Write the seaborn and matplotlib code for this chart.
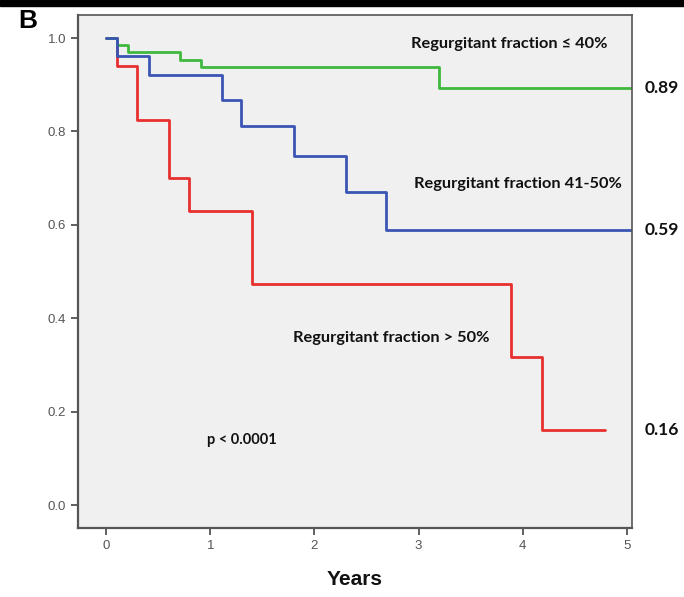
import matplotlib
matplotlib.use("Agg")
import matplotlib.pyplot as plt
import pandas as pd
import seaborn as sns

# Kaplan-Meier step curves
groups = ["Regurgitant fraction > 50%", "Regurgitant fraction \u2264 40%", "Regurgitant fraction 41-50%"]
red_t = [0, 0.10, 0.30, 0.60, 0.80, 1.40, 3.89, 4.19, 4.79]
red_s = [1.0, 0.941, 0.824, 0.700, 0.630, 0.473, 0.318, 0.160, 0.160]
green_t = [0, 0.10, 0.21, 0.71, 0.91, 3.20, 5.05]
green_s = [1.0, 0.986, 0.971, 0.954, 0.937, 0.893, 0.893]
blue_t = [0, 0.10, 0.41, 1.11, 1.30, 1.80, 2.30, 2.69, 5.05]
blue_s = [1.0, 0.962, 0.921, 0.867, 0.812, 0.747, 0.671, 0.589, 0.589]
end_labels = ["0.16", "0.89", "0.59"]
colors = ["#e8302e", "#3fb83f", "#3a55b4"]

frames = []
for g, t, s in zip(groups, [red_t, green_t, blue_t], [red_s, green_s, blue_s]):
    frames.append(pd.DataFrame({"Years": t, "Survival": s, "Group": g}))
df = pd.concat(frames, ignore_index=True)

sns.set_style("ticks")
plt.rcParams["font.family"] = ["Liberation Sans", "DejaVu Sans"]

fig = plt.figure(figsize=(6.84, 5.97), dpi=100)
ax = fig.add_axes([0.114, 0.1156, 0.81, 0.859])
ax.set_facecolor("#f0f0f0")

sns.lineplot(data=df, x="Years", y="Survival", hue="Group", hue_order=groups,
             palette=dict(zip(groups, colors)), estimator=None, sort=False,
             drawstyle="steps-post", linewidth=2, legend=False, ax=ax)

ax.set_xlim(-0.27, 5.05)
ax.set_ylim(-0.049, 1.049)
ax.set_xticks(range(0, 6))
ax.set_yticks([0.0, 0.2, 0.4, 0.6, 0.8, 1.0])
ax.set_yticklabels(["0.0", "0.2", "0.4", "0.6", "0.8", "1.0"])
ax.tick_params(axis="both", direction="out", length=5, width=1.2, colors="#444444",
               labelsize=9.5, labelcolor="#555555")
for sp in ax.spines.values():
    sp.set_color("#555555")
    sp.set_linewidth(1.2)
ax.spines["left"].set_linewidth(1.6)
ax.spines["bottom"].set_linewidth(1.6)

ax.set_xlabel("Years", fontsize=15, fontweight="bold", labelpad=13, color="#111111")
ax.set_ylabel("")

lab = dict(fontsize=11.8, fontweight="bold", family=["Lato", "DejaVu Sans"], color="#111111")
ax.text(3.87, 0.987, groups[1], ha="center", va="center", **lab)
ax.text(3.95, 0.687, groups[2], ha="center", va="center", **lab)
ax.text(2.74, 0.358, groups[0], ha="center", va="center", **lab)
ax.text(1.30, 0.139, "p < 0.0001", ha="center", va="center",
        fontsize=10.5, fontweight="bold", family=["Lato", "DejaVu Sans"], color="#111111")

for s, txt in zip([red_s[-1], green_s[-1], blue_s[-1]], end_labels):
    ax.annotate(txt, xy=(1.0, s), xycoords=("axes fraction", "data"),
                xytext=(9, 0), textcoords="offset points", ha="left", va="center",
                fontsize=12.5, fontweight="bold", family=["Lato", "DejaVu Sans"], color="#111111")

fig.text(0.026, 0.965, "B", fontsize=19, fontweight="bold", ha="left", va="center", color="black")
fig.patches.append(plt.Rectangle((0, 0.99), 1, 0.01, transform=fig.transFigure,
                                 color="black", zorder=10))

fig.savefig("out.png", dpi=100)
